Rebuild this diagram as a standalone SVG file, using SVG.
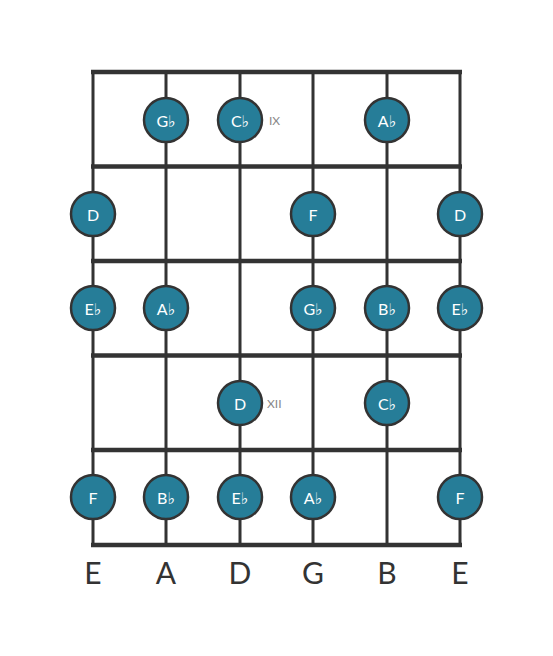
<svg xmlns="http://www.w3.org/2000/svg" width="553" height="656" viewBox="0 0 553 656">
<style>
.str{stroke:#333;stroke-width:3;fill:none}
.fret{stroke:#333;stroke-width:4.5;fill:none}
.note circle{fill:#267d98;stroke:#333;stroke-width:2.5}
.note text{fill:#fff;font-family:Lato,"DejaVu Sans",sans-serif;font-size:16px;text-anchor:middle;dominant-baseline:central}
.lbl{fill:#333;font-family:Lato,"Liberation Sans",sans-serif;font-size:30px;text-anchor:middle}
.fn{fill:#888;font-family:Lato,"Liberation Sans",sans-serif;font-size:12px;dominant-baseline:central}
</style>
<rect width="553" height="656" fill="#fff"/>
<g id="connectors">
<line class="str" x1="93" y1="72" x2="93" y2="545"/>
<line class="str" x1="166" y1="72" x2="166" y2="545"/>
<line class="str" x1="240" y1="72" x2="240" y2="545"/>
<line class="str" x1="313" y1="72" x2="313" y2="545"/>
<line class="str" x1="387" y1="72" x2="387" y2="545"/>
<line class="str" x1="460" y1="72" x2="460" y2="545"/>
<line class="fret" x1="91" y1="72" x2="462" y2="72"/>
<line class="fret" x1="91" y1="166.5" x2="462" y2="166.5"/>
<line class="fret" x1="91" y1="261" x2="462" y2="261"/>
<line class="fret" x1="91" y1="355.5" x2="462" y2="355.5"/>
<line class="fret" x1="91" y1="450" x2="462" y2="450"/>
<line class="fret" x1="91" y1="545" x2="462" y2="545"/>
</g>
<g id="n1" class="note"><circle cx="166" cy="120" r="22"/><text x="166" y="120">G♭</text></g>
<g id="n2" class="note"><circle cx="240" cy="120" r="22"/><text x="240" y="120">C♭</text></g>
<g id="n3" class="note"><circle cx="387" cy="120" r="22"/><text x="387" y="120">A♭</text></g>
<g id="n4" class="note"><circle cx="93" cy="214" r="22"/><text x="93" y="214">D</text></g>
<g id="n5" class="note"><circle cx="313" cy="214" r="22"/><text x="313" y="214">F</text></g>
<g id="n6" class="note"><circle cx="460" cy="214" r="22"/><text x="460" y="214">D</text></g>
<g id="n7" class="note"><circle cx="93" cy="308" r="22"/><text x="93" y="308">E♭</text></g>
<g id="n8" class="note"><circle cx="166" cy="308" r="22"/><text x="166" y="308">A♭</text></g>
<g id="n9" class="note"><circle cx="313" cy="308" r="22"/><text x="313" y="308">G♭</text></g>
<g id="n10" class="note"><circle cx="387" cy="308" r="22"/><text x="387" y="308">B♭</text></g>
<g id="n11" class="note"><circle cx="460" cy="308" r="22"/><text x="460" y="308">E♭</text></g>
<g id="n12" class="note"><circle cx="240" cy="403" r="22"/><text x="240" y="403">D</text></g>
<g id="n13" class="note"><circle cx="387" cy="403" r="22"/><text x="387" y="403">C♭</text></g>
<g id="n14" class="note"><circle cx="93" cy="497" r="22"/><text x="93" y="497">F</text></g>
<g id="n15" class="note"><circle cx="166" cy="497" r="22"/><text x="166" y="497">B♭</text></g>
<g id="n16" class="note"><circle cx="240" cy="497" r="22"/><text x="240" y="497">E♭</text></g>
<g id="n17" class="note"><circle cx="313" cy="497" r="22"/><text x="313" y="497">A♭</text></g>
<g id="n18" class="note"><circle cx="460" cy="497" r="22"/><text x="460" y="497">F</text></g>
<g id="fretnums">
<text class="fn" x="269" y="120">IX</text>
<text class="fn" x="267" y="403">XII</text>
</g>
<g id="strings">
<text class="lbl" x="93" y="584">E</text>
<text class="lbl" x="166" y="584">A</text>
<text class="lbl" x="240" y="584">D</text>
<text class="lbl" x="313" y="584">G</text>
<text class="lbl" x="387" y="584">B</text>
<text class="lbl" x="460" y="584">E</text>
</g>
</svg>
